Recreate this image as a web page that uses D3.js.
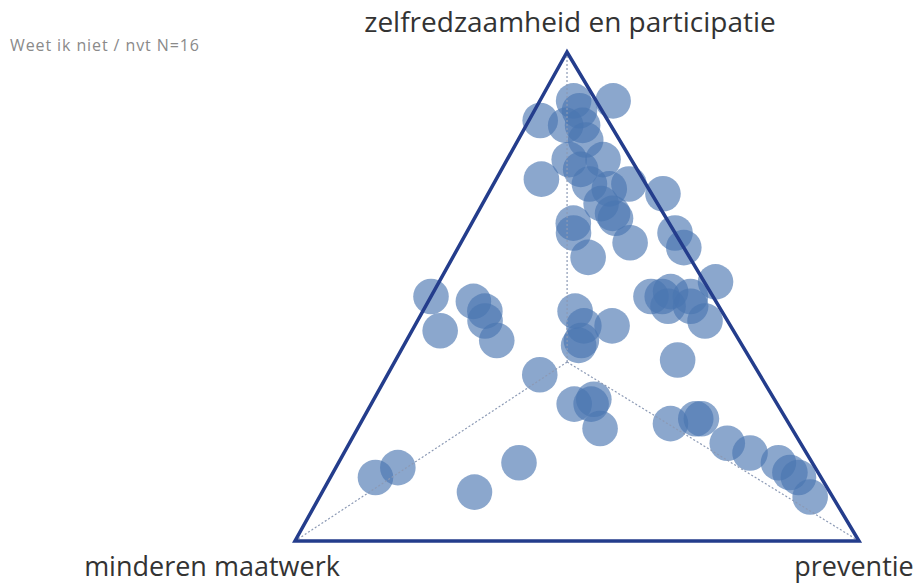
<!DOCTYPE html>
<html>
<head>
<meta charset="utf-8">
<script src="https://cdn.jsdelivr.net/npm/d3@7"></script>
<style>
  body { margin: 0; background: #fff; }
  text { font-family: "Open Sans", "Noto Sans", sans-serif; }
</style>
</head>
<body>
<div id="chart"></div>
<script>
var width = 921;
var height = 585;

// corner labels: [top, bottom-left, bottom-right]
var corners = ["zelfredzaamheid en participatie", "minderen maatwerk", "preventie"];
var note = "Weet ik niet / nvt N=16";

// shares in % per respondent
var zelfredzaamheid = [90, 90, 86, 88, 85, 85, 82, 78, 76, 78, 74, 73, 72, 73, 71, 69, 67, 66, 65, 63, 61, 58, 63, 60,
  50, 50, 51, 48, 50, 48, 53, 45, 37,
  50, 43, 49, 47, 45, 41,
  47, 44, 41, 40, 44, 34,
  28, 28, 29, 23, 24, 25, 25, 20, 18, 16, 14, 13, 9,
  13, 15, 10, 16];
var maatwerk = [4, -3, 12, 4, 8, 5, 6, 11, 10, 5, 18, 10, 7, 3, -2, 10, 9, 9, 17, 18, 9, 18, 0, 0,
  11, 9, 7, 9, 4, 5, -2, 4, 13,
  50, 52, 43, 42, 43, 43,
  26, 26, 28, 29, 21, 39,
  36, 33, 32, 34, 21, 16, 15, 13, 10, 6, 5, 4, 4,
  79, 74, 63, 52];
var preventie = [6, 13, 2, 8, 7, 10, 12, 11, 14, 17, 8, 17, 21, 24, 31, 21, 24, 25, 18, 19, 30, 24, 37, 40,
  39, 41, 42, 43, 46, 47, 49, 51, 50,
  0, 5, 8, 11, 12, 16,
  27, 30, 31, 31, 35, 27,
  36, 39, 39, 43, 55, 59, 60, 67, 72, 78, 81, 83, 87,
  8, 11, 27, 32];

// where the three guide lines meet
var centre = [36.6, 32.8, 30.6];

var points = zelfredzaamheid.map(function(d, i) {
  return {a: d, b: maatwerk[i], c: preventie[i]};
});

var svg = d3.select("#chart").append("svg")
  .attr("width", width)
  .attr("height", height);

// y follows the zelfredzaamheid share, x runs along the base towards preventie
var y = d3.scaleLinear().domain([0, 100]).range([541, 52]);
var x = d3.scaleLinear().domain([0, 100]).range([295, 859]);
var apexShift = x.invert(567); // apex sits a bit left of the base middle

function px(d) {
  var s = d.a + d.b + d.c;
  var a = d.a / s * 100, c = d.c / s * 100;
  return [x(c + a * apexShift / 100), y(a)];
}

var apex = px({a: 100, b: 0, c: 0}),
    cornerL = px({a: 0, b: 100, c: 0}),
    cornerR = px({a: 0, b: 0, c: 100}),
    mid = px({a: centre[0], b: centre[1], c: centre[2]});

svg.selectAll(".dot")
  .data(points)
  .enter().append("circle")
    .attr("class", "dot")
    .attr("cx", function(d) { return px(d)[0]; })
    .attr("cy", function(d) { return px(d)[1]; })
    .attr("r", 17.8)
    .attr("fill", "#4a76b0")
    .attr("fill-opacity", 0.64);

// dotted guides from the centre to each corner
svg.selectAll(".guide")
  .data([apex, cornerL, cornerR])
  .enter().append("line")
    .attr("class", "guide")
    .attr("x1", mid[0]).attr("y1", mid[1])
    .attr("x2", function(d) { return d[0]; })
    .attr("y2", function(d) { return d[1]; })
    .attr("stroke", "#8c9ab5")
    .attr("stroke-width", 1.2)
    .attr("stroke-dasharray", "2,2");

svg.append("path")
  .attr("d", d3.line()([apex, cornerL, cornerR]) + "Z")
  .attr("fill", "none")
  .attr("stroke", "#243d8c")
  .attr("stroke-width", 3.5)
  .attr("stroke-linejoin", "miter");

svg.append("text")
  .attr("x", 570).attr("y", 32)
  .attr("text-anchor", "middle")
  .attr("font-size", 28)
  .attr("fill", "#333")
  .text(corners[0]);

svg.append("text")
  .attr("x", 212).attr("y", 576)
  .attr("text-anchor", "middle")
  .attr("font-size", 27)
  .attr("fill", "#333")
  .text(corners[1]);

svg.append("text")
  .attr("x", 854).attr("y", 576)
  .attr("text-anchor", "middle")
  .attr("font-size", 27)
  .attr("fill", "#333")
  .text(corners[2]);

svg.append("text")
  .attr("x", 10).attr("y", 51)
  .attr("font-size", 16)
  .attr("letter-spacing", 0.9)
  .attr("fill", "#8a8a8a")
  .text(note);
</script>
</body>
</html>
